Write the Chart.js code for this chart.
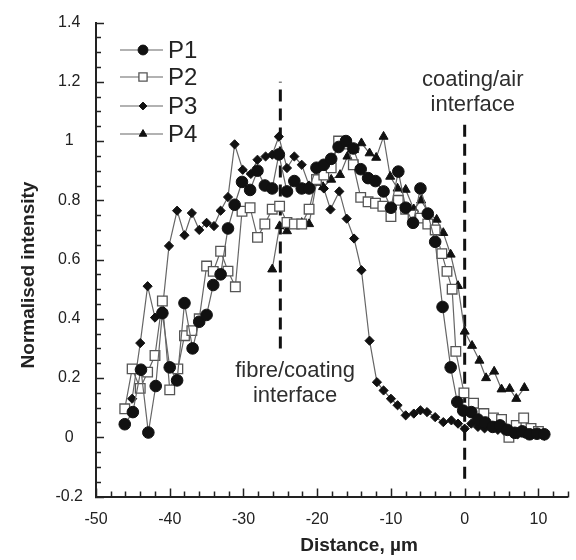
<!DOCTYPE html>
<html>
<head>
<meta charset="utf-8">
<script src="https://cdn.jsdelivr.net/npm/chart.js@4.4.1/dist/chart.umd.min.js"></script>
<style>
  html, body { margin: 0; padding: 0; background: #fff; }
</style>
</head>
<body>
<canvas id="c" width="576" height="560"></canvas>
<script>
const p1Dist = [-46.1, -45.0, -43.9, -42.9, -41.9, -41.0, -40.0, -39.0, -38.0, -36.9, -36.0, -35.0, -34.1, -33.1, -32.1, -31.2, -30.2, -29.1, -28.1, -27.1, -26.1, -25.2, -24.1, -23.1, -22.1, -21.1, -20.1, -19.1, -18.1, -17.1, -16.1, -15.1, -14.1, -13.1, -12.1, -11.0, -10.0, -9.0, -8.0, -7.0, -6.0, -5.0, -4.0, -3.0, -1.9, -1.0, -0.2, 0.9, 1.8, 2.8, 3.8, 4.8, 5.8, 6.8, 7.8, 8.8, 9.8, 10.8]
const p1Int = [0.044, 0.085, 0.228, 0.016, 0.173, 0.419, 0.236, 0.192, 0.453, 0.300, 0.390, 0.413, 0.514, 0.550, 0.705, 0.785, 0.862, 0.835, 0.900, 0.850, 0.840, 0.955, 0.830, 0.865, 0.840, 0.840, 0.910, 0.920, 0.940, 0.980, 1.000, 0.975, 0.905, 0.875, 0.865, 0.830, 0.775, 0.897, 0.775, 0.724, 0.840, 0.755, 0.660, 0.440, 0.236, 0.119, 0.090, 0.085, 0.060, 0.050, 0.035, 0.040, 0.025, 0.015, 0.020, 0.010, 0.012, 0.010]

const p2Dist = [-46.1, -45.1, -44.0, -43.0, -42.0, -41.0, -40.0, -38.9, -38.0, -37.0, -36.0, -35.0, -34.1, -33.1, -32.1, -31.1, -30.2, -29.1, -28.1, -27.1, -26.1, -25.1, -24.1, -23.1, -22.1, -21.1, -20.1, -19.1, -18.1, -17.1, -16.1, -15.1, -14.1, -13.1, -12.1, -11.1, -10.0, -9.0, -8.0, -7.0, -6.0, -5.0, -4.0, -3.1, -2.4, -1.7, -1.2, -0.1, 1.2, 2.6, 3.9, 5.0, 6.0, 7.0, 8.0, 9.0, 10.0]
const p2Int = [0.096, 0.231, 0.165, 0.220, 0.276, 0.460, 0.160, 0.231, 0.343, 0.360, 0.400, 0.578, 0.560, 0.628, 0.561, 0.508, 0.763, 0.775, 0.675, 0.720, 0.770, 0.780, 0.725, 0.720, 0.720, 0.770, 0.870, 0.885, 0.910, 1.000, 0.990, 0.920, 0.810, 0.795, 0.790, 0.780, 0.745, 0.800, 0.770, 0.750, 0.740, 0.720, 0.700, 0.620, 0.560, 0.500, 0.290, 0.150, 0.115, 0.080, 0.065, 0.060, 0.000, 0.040, 0.065, 0.030, 0.020]

const p3Dist = [-45.1, -44.0, -43.0, -42.0, -41.0, -40.1, -39.0, -38.0, -37.0, -36.0, -35.0, -34.0, -33.1, -32.1, -31.2, -30.1, -29.0, -28.1, -27.0, -26.1, -25.2, -24.1, -23.1, -22.1, -21.1, -20.1, -19.1, -18.2, -17.0, -16.0, -15.0, -14.0, -12.9, -11.9, -11.0, -10.0, -9.1, -8.0, -6.9, -6.0, -5.1, -4.0, -2.9, -1.8, -0.9, 0.0, 0.9, 1.8, 2.7, 3.6, 4.5, 5.4, 6.3, 7.2, 8.1, 9.0, 9.9, 10.8]
const p3Int = [0.130, 0.318, 0.510, 0.404, 0.430, 0.646, 0.765, 0.682, 0.757, 0.700, 0.724, 0.713, 0.765, 0.811, 0.989, 0.903, 0.889, 0.937, 0.948, 0.954, 1.015, 0.909, 0.948, 0.920, 0.850, 0.875, 0.840, 0.769, 0.830, 0.738, 0.671, 0.564, 0.326, 0.186, 0.158, 0.130, 0.108, 0.074, 0.080, 0.091, 0.085, 0.068, 0.051, 0.057, 0.046, 0.029, 0.046, 0.035, 0.030, 0.040, 0.025, 0.020, 0.012, 0.010, 0.012, 0.008, 0.015, 0.005]

const p4Dist = [-26.1, -25.1, -24.1, -23.1, -22.1, -21.1, -20.1, -19.2, -18.1, -16.9, -15.9, -15.0, -14.0, -12.9, -12.0, -11.0, -10.1, -9.1, -8.0, -6.9, -5.9, -4.9, -3.8, -2.9, -1.9, -0.9, 0.0, 1.0, 2.0, 2.9, 4.0, 5.0, 6.1, 7.0, 8.1]
const p4Int = [0.567, 0.713, 0.696, 0.715, 0.724, 0.720, 0.860, 0.845, 0.870, 0.886, 0.948, 0.970, 0.993, 0.959, 0.944, 1.015, 0.880, 0.840, 0.836, 0.770, 0.800, 0.757, 0.735, 0.690, 0.617, 0.511, 0.357, 0.309, 0.259, 0.200, 0.222, 0.162, 0.164, 0.130, 0.167]

const seriesNames = ["P1", "P2", "P3", "P4"]
const xTickValues = [-50, -40, -30, -20, -10, 0, 10]
const yTickValues = [-0.2, 0, 0.2, 0.4, 0.6, 0.8, 1, 1.2, 1.4]

// linhas tracejadas das interfaces (posição x, faixa em y)
const fibreX = -25
const fibreSpan = [0.3, 1.2]
const airX = 0
const airSpan = [-0.14, 1.065]

const FONT = '"Liberation Sans", Arial, Helvetica, sans-serif'
const INK = "#222"
const LINE = "#666"

const pts = (xs, ys) => xs.map((x, i) => ({ x, y: ys[i] }))

const markerStyles = [
  { pointStyle: "circle", pointRadius: 5.8, pointBackgroundColor: "#111", pointBorderColor: "#111", pointBorderWidth: 1 },
  { pointStyle: "rect", pointRadius: 6.8, pointBackgroundColor: "#fff", pointBorderColor: "#555", pointBorderWidth: 1.3 },
  { pointStyle: "rectRot", pointRadius: 4.6, pointBackgroundColor: "#111", pointBorderColor: "#111", pointBorderWidth: 1 },
  { pointStyle: "triangle", pointRadius: 5.2, pointBackgroundColor: "#111", pointBorderColor: "#111", pointBorderWidth: 1 }
]

const seriesData = [pts(p1Dist, p1Int), pts(p2Dist, p2Int), pts(p3Dist, p3Int), pts(p4Dist, p4Int)]

const datasets = seriesData.map((data, i) => ({
  label: seriesNames[i],
  data,
  borderColor: LINE,
  borderWidth: 1.2,
  tension: 0,
  ...markerStyles[i]
}))

const dashLine = (x, span) => ({
  label: "",
  data: [{ x, y: span[0] }, { x, y: span[1] }],
  borderColor: "#111",
  borderWidth: 3,
  borderDash: [12, 7],
  pointRadius: 0,
  order: 10
})
datasets.push(dashLine(fibreX, fibreSpan), dashLine(airX, airSpan))

// ticks internos, legenda, anotações e títulos dos eixos
const decor = {
  id: "decor",
  afterDatasetsDraw(chart) {
    const { ctx, chartArea, scales: { x, y } } = chart
    ctx.save()
    ctx.strokeStyle = INK
    ctx.lineWidth = 1.5
    ctx.beginPath()
    for (let i = -4; i <= 28; i++) {
      const py = Math.round(y.getPixelForValue(i * 0.05)) + 0.5
      const len = i % 4 === 0 ? 8 : 5
      ctx.moveTo(chartArea.left - 1, py)
      ctx.lineTo(chartArea.left + len, py)
    }
    for (let v = -50; v <= 14; v += 2) {
      const px = Math.round(x.getPixelForValue(v)) + 0.5
      const len = v % 10 === 0 ? 8 : 5
      ctx.moveTo(px, chartArea.bottom + 1)
      ctx.lineTo(px, chartArea.bottom - len)
    }
    ctx.stroke()

    // legenda
    const lx0 = 120, lx1 = 163, mx = 143
    const rows = [50, 77, 106, 134]
    ctx.font = "24px " + FONT
    ctx.textBaseline = "middle"
    ctx.textAlign = "left"
    seriesNames.forEach((name, i) => {
      const ly = rows[i]
      ctx.strokeStyle = LINE
      ctx.lineWidth = 1.2
      ctx.beginPath()
      ctx.moveTo(lx0, ly)
      ctx.lineTo(lx1, ly)
      ctx.stroke()
      const m = markerStyles[i]
      ctx.fillStyle = m.pointBackgroundColor
      ctx.strokeStyle = m.pointBorderColor
      ctx.lineWidth = m.pointBorderWidth
      Chart.helpers.drawPoint(ctx, { pointStyle: m.pointStyle, radius: m.pointRadius * 0.85, rotation: 0, borderWidth: m.pointBorderWidth }, mx, ly)
      ctx.fillStyle = INK
      ctx.fillText(name, 168, ly + 1)
    })

    // anotações
    ctx.fillStyle = "#2e2e2e"
    ctx.textAlign = "center"
    ctx.font = "22px " + FONT
    const fx = x.getPixelForValue(fibreX + 2)
    const fy = y.getPixelForValue(0.225)
    ctx.fillText("fibre/coating", fx, fy)
    ctx.fillText("interface", fx, fy + 25)
    const ax = x.getPixelForValue(airX + 1.1)
    const ay = y.getPixelForValue(1.207)
    ctx.fillText("coating/air", ax, ay)
    ctx.fillText("interface", ax, ay + 25)

    // títulos dos eixos
    ctx.fillStyle = INK
    ctx.font = "bold 19px " + FONT
    ctx.fillText("Distance, \u00b5m", 359, 546)
    ctx.translate(29, 275)
    ctx.rotate(-Math.PI / 2)
    ctx.fillText("Normalised intensity", 0, 0)
    ctx.restore()
  }
}

const tickFont = { family: FONT, size: 16 }

new Chart(document.getElementById("c"), {
  type: "line",
  data: { datasets },
  options: {
    responsive: false,
    animation: false,
    layout: { padding: { top: 20, right: 2, left: 0, bottom: 0 } },
    plugins: { legend: { display: false }, tooltip: { enabled: false } },
    scales: {
      x: {
        type: "linear",
        min: -50,
        max: 14,
        afterBuildTicks: (s) => { s.ticks = xTickValues.map((value) => ({ value })) },
        afterFit: (s) => { s.height = 63.5 },
        ticks: { font: tickFont, color: INK, padding: 13, maxRotation: 0, callback: (v) => String(v) },
        grid: { display: false, drawTicks: false },
        border: { display: true, color: INK, width: 2 }
      },
      y: {
        type: "linear",
        min: -0.2,
        max: 1.4,
        afterBuildTicks: (s) => { s.ticks = yTickValues.map((value) => ({ value })) },
        afterFit: (s) => { s.width = 96 },
        ticks: { font: tickFont, color: INK, padding: 13, crossAlign: "center", callback: (v) => String(Math.round(v * 10) / 10) },
        grid: { display: false, drawTicks: false },
        border: { display: true, color: INK, width: 2 }
      }
    }
  },
  plugins: [decor]
})
</script>
</body>
</html>
